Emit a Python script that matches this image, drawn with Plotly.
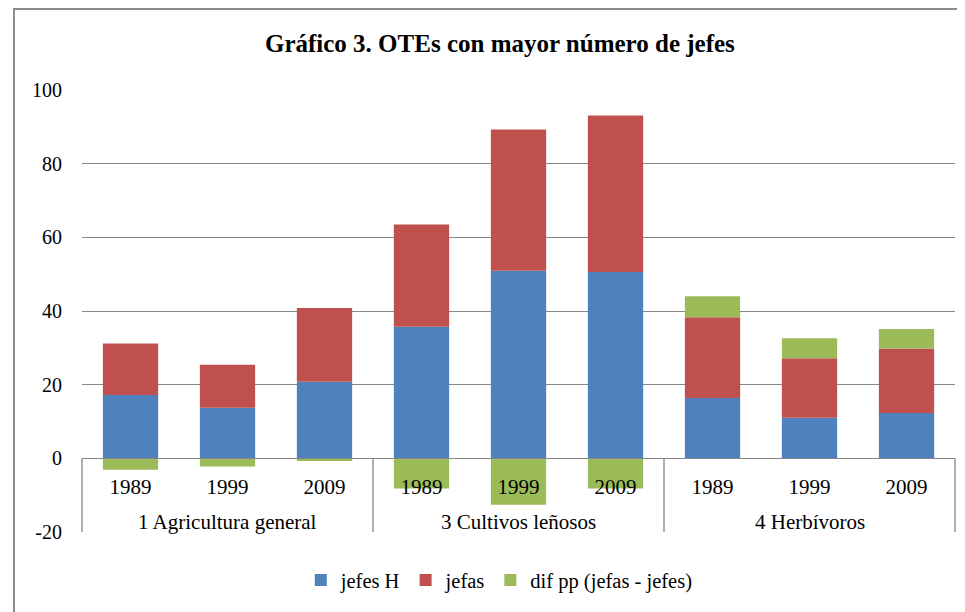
import plotly.graph_objects as go

group_names = ["1 Agricultura general", "3 Cultivos leñosos", "4 Herbívoros"]
years = ["1989", "1999", "2009"] * 3
jefes_h = [17.2, 13.7, 20.8, 35.7, 50.9, 50.6, 16.4, 11.0, 12.3]
jefas = [14.0, 11.7, 20.0, 27.8, 38.4, 42.5, 21.9, 16.2, 17.5]
dif_pp = [-3.1, -2.2, -0.7, -8.2, -12.6, -8.2, 5.7, 5.4, 5.3]
series_names = ["jefes H", "jefas", "dif pp (jefas - jefes)"]
y_ticks = [-20, 0, 20, 40, 60, 80, 100]

colors = ["#4F81BD", "#C0504D", "#9BBB59"]
FONT = "Liberation Serif, Times New Roman, serif"
GRID = "#868686"

idx = list(range(len(years)))
n_per_group = len(years) // len(group_names)

fig = go.Figure()
for name, vals, col in zip(series_names, [jefes_h, jefas, dif_pp], colors):
    fig.add_trace(go.Bar(
        x=idx, y=vals, name=name, width=0.57,
        marker=dict(color=col, line=dict(width=0)),
    ))

shapes = []
# outer chart border
shapes.append(dict(type="rect", xref="paper", yref="paper",
                   x0=-0.0779, x1=1.04, y0=-0.25, y1=1.183,
                   line=dict(color="#8c8c8c", width=2), layer="below"))
# category table vertical lines
for k in range(len(group_names) + 1):
    fx = k / len(group_names)
    shapes.append(dict(type="line", xref="x domain", yref="y",
                       x0=fx, x1=fx, y0=0, y1=-21,
                       line=dict(color=GRID, width=1.3)))

annotations = []
for g, gname in enumerate(group_names):
    annotations.append(dict(
        x=g * n_per_group + (n_per_group - 1) / 2, y=-17.2, xref="x", yref="y",
        text=gname, showarrow=False, xanchor="center", yanchor="middle",
        font=dict(family=FONT, size=21, color="black")))

fig.update_layout(
    width=957, height=604,
    margin=dict(l=74, r=10, t=82, b=80),
    paper_bgcolor="white", plot_bgcolor="white",
    barmode="relative",
    font=dict(family=FONT, size=20, color="black"),
    title=dict(text="<b>Gráfico 3. OTEs con mayor número de jefes</b>",
               x=0.514, xanchor="center", y=0.942, yanchor="middle",
               font=dict(family=FONT, size=25, color="black")),
    yaxis=dict(range=[-20, 100], tickvals=y_ticks,
               ticktext=[str(v) for v in y_ticks], showgrid=True,
               gridcolor=GRID, gridwidth=1.3, zeroline=False, showline=False,
               ticks="", ticklabelstandoff=19,
               tickfont=dict(family=FONT, size=20)),
    xaxis=dict(range=[-0.5, len(years) - 0.5], anchor="free", position=20/120,
               tickvals=idx, ticktext=years,
               showline=True, linecolor=GRID, linewidth=1.3,
               showgrid=False, zeroline=False, ticks="",
               ticklabelstandoff=9, automargin=False,
               tickfont=dict(family=FONT, size=21)),
    legend=dict(orientation="h", x=0.478, xanchor="center",
                y=-0.109, yanchor="middle",
                font=dict(family=FONT, size=20.5), traceorder="normal",
                itemwidth=30),
    shapes=shapes,
    annotations=annotations,
)

fig.write_html("out.html")
